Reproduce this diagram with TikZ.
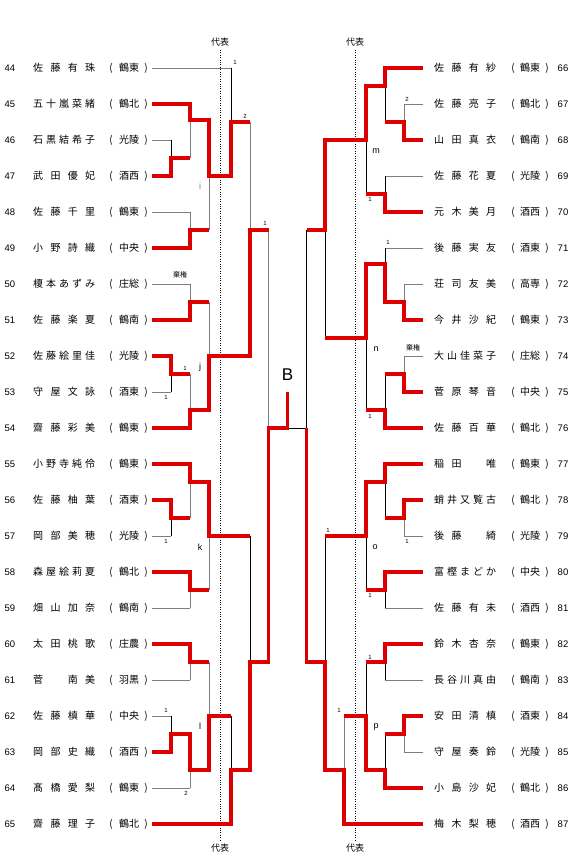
\documentclass[tikz,border=0pt]{standalone}
\usepackage{fontspec}
\setmainfont{Noto Sans CJK JP}
\newfontfamily\lat{Liberation Sans}
\definecolor{win}{RGB}{222,0,0}
\definecolor{lg}{RGB}{125,125,125}
\newcommand\blk{\phantom{口}}
\def\sprA#1#2\sprEnd{#1\ifx\relax#2\relax\else\hfil\sprA#2\sprEnd\fi}
\newcommand\spr[1]{\makebox[62pt][s]{\sprA#1\sprEnd}}
\tikzset{
  nm/.style={inner sep=0pt, font=\fontsize{10}{12}\selectfont},
  num/.style={inner sep=0pt, font=\lat\fontsize{9.5}{11}\selectfont},
  sc/.style={inner sep=0pt, font=\lat\fontsize{6}{7}\selectfont},
  lt/.style={inner sep=0pt, font=\lat\fontsize{9}{10}\selectfont},
  kk/.style={inner sep=0pt, font=\fontsize{7}{8}\selectfont},
  rep/.style={inner sep=0pt, font=\fontsize{9}{10}\selectfont},
  ln/.style={draw=lg, line width=0.9pt},
  lnb/.style={draw=black, line width=0.9pt},
  wn/.style={draw=win, line width=3.2pt, line join=miter},
  dot/.style={draw=black, line width=0.8pt, dash pattern=on 0.8pt off 1.6pt}
}
\newcommand\Lrow[4]{%
  \pgfmathsetmacro\yy{68+36*#2}%
  \node[num] (n#1) at (10,\yy) {#1};
  \node[nm,anchor=west] (p#1) at (33,\yy) {\spr{#3}};
  \node[nm] (lp#1) at (111,\yy) {(};
  \node[nm] (s#1) at (129,\yy) {#4};
  \node[nm] (rp#1) at (146,\yy) {)};
  \coordinate (e#1) at (152,\yy);
}
\newcommand\Rrow[4]{%
  \pgfmathsetmacro\yy{68+36*#2}%
  \node[nm,anchor=west] (p#1) at (434,\yy) {\spr{#3}};
  \node[nm] (lp#1) at (513,\yy) {(};
  \node[nm] (s#1) at (530,\yy) {#4};
  \node[nm] (rp#1) at (547,\yy) {)};
  \node[num] (n#1) at (563,\yy) {#1};
  \coordinate (e#1) at (423,\yy);
}
% junction: x, y1, y2, yout, xnext, style
\newcommand\jn[6]{\draw[#6] (#1,#2) -- (#1,#3) (#1,#4) -- (#5,#4);}
\begin{document}
\begin{tikzpicture}[x=1pt,y=-1pt]
\fill[white] (0,0) rectangle (577,861);
\useasboundingbox (0,0) rectangle (577,861);

% ---------- entries ----------
\Lrow{44}{0}{佐藤有珠}{鶴東}
\Lrow{45}{1}{五十嵐菜緒}{鶴北}
\Lrow{46}{2}{石黒結希子}{光陵}
\Lrow{47}{3}{武田優妃}{酒西}
\Lrow{48}{4}{佐藤千里}{鶴東}
\Lrow{49}{5}{小野詩織}{中央}
\Lrow{50}{6}{榎本あずみ}{庄総}
\Lrow{51}{7}{佐藤楽夏}{鶴南}
\Lrow{52}{8}{佐藤絵里佳}{光陵}
\Lrow{53}{9}{守屋文詠}{酒東}
\Lrow{54}{10}{齋藤彩美}{鶴東}
\Lrow{55}{11}{小野寺純伶}{鶴東}
\Lrow{56}{12}{佐藤柚葉}{酒東}
\Lrow{57}{13}{岡部美穂}{光陵}
\Lrow{58}{14}{森屋絵莉夏}{鶴北}
\Lrow{59}{15}{畑山加奈}{鶴南}
\Lrow{60}{16}{太田桃歌}{庄農}
\Lrow{61}{17}{菅\blk 南美}{羽黒}
\Lrow{62}{18}{佐藤槙華}{中央}
\Lrow{63}{19}{岡部史織}{酒西}
\Lrow{64}{20}{髙橋愛梨}{鶴東}
\Lrow{65}{21}{齋藤理子}{鶴北}

\Rrow{66}{0}{佐藤有紗}{鶴東}
\Rrow{67}{1}{佐藤亮子}{鶴北}
\Rrow{68}{2}{山田真衣}{鶴南}
\Rrow{69}{3}{佐藤花夏}{光陵}
\Rrow{70}{4}{元木美月}{酒西}
\Rrow{71}{5}{後藤実友}{酒東}
\Rrow{72}{6}{荘司友美}{高専}
\Rrow{73}{7}{今井沙紀}{鶴東}
\Rrow{74}{8}{大山佳菜子}{庄総}
\Rrow{75}{9}{菅原琴音}{中央}
\Rrow{76}{10}{佐藤百華}{鶴北}
\Rrow{77}{11}{稲田\blk 唯}{鶴東}
\Rrow{78}{12}{蛸井又覧古}{鶴北}
\Rrow{79}{13}{後藤\blk 綺}{光陵}
\Rrow{80}{14}{富樫まどか}{中央}
\Rrow{81}{15}{佐藤有未}{酒西}
\Rrow{82}{16}{鈴木杏奈}{鶴東}
\Rrow{83}{17}{長谷川真由}{鶴南}
\Rrow{84}{18}{安田清槙}{酒東}
\Rrow{85}{19}{守屋奏鈴}{光陵}
\Rrow{86}{20}{小島沙妃}{鶴北}
\Rrow{87}{21}{梅木梨穂}{酒西}

% ---------- representative lines ----------
\draw[dot] (220,50) -- (220,840);
\draw[dot] (355,50) -- (355,840);
\node[rep] (repLT) at (220,42) {代表};
\node[rep] (repLB) at (220,848) {代表};
\node[rep] (repRT) at (355,42) {代表};
\node[rep] (repRB) at (355,848) {代表};

% ---------- thin skeleton, left ----------
\draw[ln] (e44) -- (231,68);
\draw[ln] (e45) -- (190,104);
\draw[ln] (e46) -- (171,140);
\draw[ln] (e47) -- (171,176);
\draw[ln] (e48) -- (190,212);
\draw[ln] (e49) -- (190,248);
\draw[ln] (e50) -- (190,284);
\draw[ln] (e51) -- (190,320);
\draw[ln] (e52) -- (171,356);
\draw[ln] (e53) -- (171,392);
\draw[ln] (e54) -- (190,428);
\draw[ln] (e55) -- (190,464);
\draw[ln] (e56) -- (171,500);
\draw[ln] (e57) -- (171,536);
\draw[ln] (e58) -- (190,572);
\draw[ln] (e59) -- (190,608);
\draw[ln] (e60) -- (190,644);
\draw[ln] (e61) -- (190,680);
\draw[ln] (e62) -- (171,716);
\draw[ln] (e63) -- (171,752);
\draw[ln] (e64) -- (190,788);
\draw[ln] (e65) -- (231,824);
\jn{171}{140}{176}{158}{190}{lnb}
\jn{171}{356}{392}{374}{190}{lnb}
\jn{171}{500}{536}{518}{190}{lnb}
\jn{171}{716}{752}{734}{190}{lnb}
\jn{190}{104}{158}{120}{209}{ln}
\jn{190}{212}{248}{230}{209}{ln}
\jn{190}{284}{320}{302}{209}{ln}
\jn{190}{374}{428}{410}{209}{ln}
\jn{190}{464}{518}{482}{209}{ln}
\jn{190}{572}{608}{590}{209}{ln}
\jn{190}{644}{680}{662}{209}{ln}
\jn{190}{734}{788}{770}{209}{ln}
\jn{209}{120}{230}{176}{231}{ln}
\jn{209}{302}{410}{356}{250}{ln}
\jn{209}{482}{590}{536}{250}{ln}
\jn{209}{662}{770}{716}{231}{ln}
\jn{231}{68}{176}{122}{250}{lnb}
\jn{231}{716}{824}{770}{250}{lnb}
\jn{250}{122}{356}{230}{268.5}{ln}
\jn{250}{536}{770}{662}{268.5}{lnb}
\jn{268.5}{230}{662}{428}{287.5}{ln}

% ---------- thin skeleton, right ----------
\draw[ln] (e66) -- (385,68);
\draw[ln] (e67) -- (404,104);
\draw[ln] (e68) -- (404,140);
\draw[ln] (e69) -- (385,176);
\draw[ln] (e70) -- (385,212);
\draw[ln] (e71) -- (385,248);
\draw[ln] (e72) -- (404,284);
\draw[ln] (e73) -- (404,320);
\draw[ln] (e74) -- (404,356);
\draw[ln] (e75) -- (404,392);
\draw[ln] (e76) -- (385,428);
\draw[ln] (e77) -- (385,464);
\draw[ln] (e78) -- (404,500);
\draw[ln] (e79) -- (404,536);
\draw[ln] (e80) -- (385,572);
\draw[ln] (e81) -- (385,608);
\draw[ln] (e82) -- (385,644);
\draw[ln] (e83) -- (385,680);
\draw[ln] (e84) -- (404,716);
\draw[ln] (e85) -- (404,752);
\draw[ln] (e86) -- (385,788);
\draw[ln] (e87) -- (344,824);
\jn{404}{104}{140}{122}{385}{ln}
\jn{404}{284}{320}{302}{385}{ln}
\jn{404}{356}{392}{374}{385}{ln}
\jn{404}{500}{536}{518}{385}{ln}
\jn{404}{716}{752}{734}{385}{ln}
\jn{385}{68}{122}{86}{366}{lnb}
\jn{385}{176}{212}{194}{366}{lnb}
\jn{385}{248}{302}{264}{366}{lnb}
\jn{385}{374}{428}{410}{366}{lnb}
\jn{385}{464}{518}{482}{366}{lnb}
\jn{385}{572}{608}{590}{366}{lnb}
\jn{385}{644}{680}{662}{366}{lnb}
\jn{385}{734}{788}{770}{366}{lnb}
\jn{366}{86}{194}{140}{325}{lnb}
\jn{366}{264}{410}{338}{325}{lnb}
\jn{366}{482}{590}{536}{325}{lnb}
\jn{366}{662}{770}{716}{344}{lnb}
\jn{344}{716}{824}{770}{325}{ln}
\jn{325}{140}{338}{230}{306.5}{lnb}
\jn{325}{536}{770}{662}{306.5}{lnb}
\jn{306.5}{230}{662}{428}{287.5}{lnb}

% ---------- winners, left ----------
\draw[wn] (e45) -- (190,104) -- (190,120) -- (209,120) -- (209,176) -- (231,176) -- (231,122) -- (250,122);
\draw[wn] (e47) -- (171,176) -- (171,158) -- (190,158);
\draw[wn] (e49) -- (190,248) -- (190,230) -- (209,230);
\draw[wn] (e51) -- (190,320) -- (190,302) -- (209,302);
\draw[wn] (e52) -- (171,356) -- (171,374) -- (190,374);
\draw[wn] (e54) -- (190,428) -- (190,410) -- (209,410) -- (209,356) -- (250,356) -- (250,230) -- (268.5,230);
\draw[wn] (e55) -- (190,464) -- (190,482) -- (209,482) -- (209,536) -- (250,536);
\draw[wn] (e56) -- (171,500) -- (171,518) -- (190,518);
\draw[wn] (e58) -- (190,572) -- (190,590) -- (209,590);
\draw[wn] (e60) -- (190,644) -- (190,662) -- (209,662);
\draw[wn] (e63) -- (171,752) -- (171,734) -- (190,734) -- (190,770) -- (209,770) -- (209,716) -- (231,716);
\draw[wn] (e65) -- (231,824) -- (231,770) -- (250,770) -- (250,662) -- (268.5,662) -- (268.5,428) -- (287.5,428) -- (287.5,392);

% ---------- winners, right ----------
\draw[wn] (e66) -- (385,68) -- (385,86) -- (366,86) -- (366,140) -- (325,140) -- (325,230) -- (306.5,230);
\draw[wn] (e68) -- (404,140) -- (404,122) -- (385,122);
\draw[wn] (e70) -- (385,212) -- (385,194) -- (366,194);
\draw[wn] (e73) -- (404,320) -- (404,302) -- (385,302) -- (385,264) -- (366,264) -- (366,338) -- (325,338);
\draw[wn] (e75) -- (404,392) -- (404,374) -- (385,374);
\draw[wn] (e76) -- (385,428) -- (385,410) -- (366,410);
\draw[wn] (e77) -- (385,464) -- (385,482) -- (366,482) -- (366,536) -- (325,536);
\draw[wn] (e78) -- (404,500) -- (404,518) -- (385,518);
\draw[wn] (e80) -- (385,572) -- (385,590) -- (366,590);
\draw[wn] (e82) -- (385,644) -- (385,662) -- (366,662);
\draw[wn] (e84) -- (404,716) -- (404,734) -- (385,734);
\draw[wn] (e86) -- (385,788) -- (385,770) -- (366,770) -- (366,716) -- (344,716);
\draw[wn] (e87) -- (344,824) -- (344,770) -- (325,770) -- (325,662) -- (306.5,662) -- (306.5,428);

% ---------- final mark ----------
\node[inner sep=0pt, font=\lat\fontsize{17}{18}\selectfont] (bmark) at (287.5,375) {B};

% ---------- scores and labels, left ----------
\node[sc] (sa1) at (235,62) {1};
\node[sc] (sa2) at (245,116) {2};
\node[sc] (sa3) at (265,223) {1};
\node[kk] (ka1) at (180,275) {棄権};
\node[sc] (sa4) at (185,368) {1};
\node[sc] (sa5) at (166,397) {1};
\node[sc] (sa6) at (166,541) {1};
\node[sc] (sa7) at (166,710) {1};
\node[sc] (sa8) at (186,793) {2};
\node[lt, text=lg] (li) at (200,186) {i};
\node[lt] (lj) at (200,367) {j};
\node[lt] (lk) at (200,547) {k};
\node[lt] (ll) at (200,726) {l};

% ---------- scores and labels, right ----------
\node[sc] (sb1) at (407,99) {2};
\node[sc] (sb2) at (370,199) {1};
\node[sc] (sb3) at (388,242) {1};
\node[kk] (kb1) at (413,348) {棄権};
\node[sc] (sb4) at (370,416) {1};
\node[sc] (sb5) at (328,530) {1};
\node[sc] (sb6) at (407,541) {1};
\node[sc] (sb7) at (370,595) {1};
\node[sc] (sb8) at (370,657) {1};
\node[sc] (sb9) at (339,710) {1};
\node[lt] (lm) at (376,151) {m};
\node[lt] (lnn) at (376,349) {n};
\node[lt] (lo) at (375,547) {o};
\node[lt] (lp) at (376,727) {p};
\end{tikzpicture}
\end{document}
